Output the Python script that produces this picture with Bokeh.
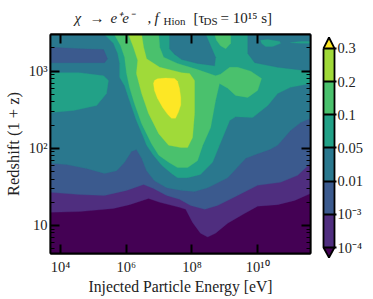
from bokeh.embed import file_html
from bokeh.resources import INLINE
from bokeh.plotting import figure
from bokeh.layouts import row, column
from bokeh.models import FixedTicker, LogAxis, LinearAxis, Range1d
from bokeh.core.properties import value

# Contour boundaries: log10(E/eV) and log10(1+z)
E_MIN, E_MAX = 3.695, 11.61
Z_MIN, Z_MAX = 0.637, 3.475

lev1_e = [3.695,4.58,5.61,6.10,6.68,7.02,7.62,7.81,8.02,8.26,8.48,8.72,9.09,9.60,10.0,10.61,11.13,11.61]
lev1_z = [1.17,1.18,1.22,1.27,1.35,1.30,1.235,1.21,1.04,0.90,0.85,0.90,1.03,1.155,1.25,1.27,1.325,1.415]
lev2_e = [3.695,4.58,5.34,6.01,6.53,6.83,7.23,7.62,7.96,8.39,8.78,9.39,10.0,10.70,11.22,11.61]
lev2_z = [1.43,1.40,1.39,1.455,1.53,1.48,1.39,1.34,1.26,1.21,1.26,1.39,1.52,1.56,1.65,1.805]
lev3_e = [3.695,4.18,4.79,5.34,5.71,5.95,6.16,6.31,6.47,6.62,6.86,7.23,7.69,8.08,8.48,9.09,9.64,10.0,10.37,10.61,11.0,11.31,11.61]
lev3_z = [1.805,1.79,1.74,1.675,1.71,1.82,1.96,1.985,1.87,1.71,1.58,1.49,1.455,1.44,1.49,1.62,1.87,1.93,1.985,2.04,2.23,2.335,2.39]
lev4_e = [5.34,5.61,5.74,5.80,5.80,5.95,6.10,6.31,6.53,6.62,6.83,7.08,7.38,7.56,7.87,8.26,8.63,8.84,9.15,9.33,9.85,10.31,10.61,11.0,11.61]
lev4_z = [3.475,3.36,3.23,3.10,2.92,2.81,2.62,2.36,2.14,2.04,1.91,1.78,1.675,1.62,1.62,1.66,1.82,2.04,2.36,2.41,2.40,2.555,2.71,2.79,2.84]
lev5_e = [5.64,5.83,5.95,6.01,6.10,6.25,6.47,6.77,6.99,7.29,7.56,7.87,8.17,8.33,8.57,8.72,8.84,9.09,9.33,9.70,10.0,10.12,9.79,9.39,9.15,8.87,8.72,8.17,7.56,7.14,7.02,6.99]
lev5_z = [3.475,3.33,3.18,2.97,2.79,2.58,2.32,2.06,1.91,1.82,1.75,1.75,1.84,2.04,2.27,2.62,2.84,2.78,2.685,2.66,2.75,2.905,3.00,3.05,3.05,2.96,2.94,3.02,3.10,3.18,3.31,3.475]
lev6_e = [6.07,6.22,6.35,6.31,6.47,6.68,6.99,7.29,7.66,7.87,8.02,8.08,8.08,7.93,7.69,7.02,6.62,6.53,6.47]
lev6_z = [3.475,3.31,3.14,2.97,2.71,2.45,2.19,2.04,2.01,2.01,2.14,2.45,2.88,2.97,2.98,3.05,3.16,3.31,3.475]
lev7_e = [6.83,6.86,6.95,7.20,7.47,7.56,7.62,7.66,7.66,7.59,7.50,7.38,7.26,7.11,6.95,6.86]
lev7_z = [2.84,2.88,2.90,2.91,2.905,2.87,2.78,2.66,2.56,2.47,2.39,2.39,2.44,2.53,2.65,2.75]

blue_island_e = [3.695,4.58,5.31,5.43,5.34,4.58,3.695]
blue_island_z = [3.31,3.29,3.28,3.16,3.11,3.11,3.11]
left_island_e = [3.695,4.58,5.31,5.46,5.40,5.10,4.40,3.695]
left_island_z = [2.98,2.98,2.94,2.88,2.71,2.555,2.49,2.465]
teal1_e = [7.32,7.32,7.47,7.69,8.17,8.69,8.72,8.42]
teal1_z = [3.475,3.29,3.22,3.15,3.10,3.07,3.18,3.475]
teal2_e = [9.70,9.70,9.91,10.61,11.61,11.61]
teal2_z = [3.475,3.23,3.11,3.05,3.00,3.475]
top_blob_e = [8.69,9.18,9.18,9.03,8.87,8.75]
top_blob_z = [3.475,3.475,3.36,3.29,3.33,3.40]
blob_a_e = [10.09,10.31,10.67,10.70,10.46,10.24,10.12]
blob_a_z = [3.40,3.41,3.385,3.36,3.32,3.32,3.36]
blob_b_e = [11.0,11.31,11.61,11.61,11.28]
blob_b_z = [3.37,3.385,3.385,3.36,3.36]

colors = ["#440154", "#4f2e7f", "#3b5a8e", "#2a788e", "#22a187", "#4ac16d", "#a0da39", "#fde725"]
cbar_labels = ["10⁻⁴", "10⁻³", "0.01", "0.05", "0.1", "0.2", "0.3"]
x_ticks = [4, 6, 8, 10]
x_tick_labels = ["10⁴", "10⁶", "10⁸", "10¹⁰"]
y_ticks = [1, 2, 3]
y_tick_labels = ["10", "10²", "10³"]
y_minor = [5,6,7,8,9,20,30,40,50,60,70,80,90,200,300,400,500,600,700,800,900,2000,3000]

FONT = "Liberation Serif"
TXT = "#222222"

p = figure(x_axis_type="log", y_axis_type="log",
           frame_width=260, frame_height=219,
           x_range=Range1d(10**E_MIN, 10**E_MAX), y_range=Range1d(10**Z_MIN, 10**Z_MAX),
           output_backend="svg", toolbar_location=None,
           min_border_left=39, min_border_right=7, min_border_top=8, min_border_bottom=40)
p.grid.visible = False
p.outline_line_color = "black"
p.outline_line_width = 1.8

def poly(e, z, level):
    p.patch([10**v for v in e], [10**v for v in z], fill_color=colors[level],
            line_color=colors[level], line_width=0.3)

def closed_up(e, z):
    return e + [E_MAX, E_MIN], z + [Z_MAX, Z_MAX]

poly([E_MIN, E_MAX, E_MAX, E_MIN], [Z_MIN, Z_MIN, Z_MAX, Z_MAX], 0)
poly(*closed_up(lev1_e, lev1_z), 1)
poly(*closed_up(lev2_e, lev2_z), 2)
poly(*closed_up(lev3_e, lev3_z), 3)
poly(lev4_e + [E_MAX], lev4_z + [Z_MAX], 4)
poly(teal1_e, teal1_z, 3)
poly(teal2_e, teal2_z, 3)
poly(blob_a_e, blob_a_z, 4)
poly(blob_b_e, blob_b_z, 4)
poly(blue_island_e, blue_island_z, 2)
poly(left_island_e, left_island_z, 4)
poly(lev5_e, lev5_z, 5)
poly(top_blob_e, top_blob_z, 5)
poly(lev6_e, lev6_z, 6)
poly(lev7_e, lev7_z, 7)

x_major = [10**v for v in x_ticks]
y_major = [10**v for v in y_ticks]

def style(ax, major, minor, in_major=9, in_minor=4):
    ax.ticker = FixedTicker(ticks=major, minor_ticks=minor)
    ax.major_tick_in = in_major
    ax.major_tick_out = 0
    ax.minor_tick_in = in_minor
    ax.minor_tick_out = 0
    ax.major_tick_line_width = 2
    ax.minor_tick_line_width = 1
    ax.major_tick_line_color = "black"
    ax.minor_tick_line_color = "black"
    ax.axis_line_color = "black"
    ax.axis_line_width = 1.8
    ax.major_label_text_font = FONT
    ax.major_label_text_font_size = "14.5px"
    ax.major_label_text_color = TXT

xa = p.xaxis[0]
style(xa, x_major, [])
xa.major_label_overrides = {10**t: s for t, s in zip(x_ticks, x_tick_labels)}
xa.major_label_standoff = 5
xa.axis_label = "Injected Particle Energy [eV]"
xa.axis_label_text_font = FONT
xa.axis_label_text_font_style = "normal"
xa.axis_label_text_font_size = "15.7px"
xa.axis_label_text_color = TXT
xa.axis_label_standoff = 0

ya = p.yaxis[0]
style(ya, y_major, y_minor)
ya.major_label_overrides = {10**t: s for t, s in zip(y_ticks, y_tick_labels)}
ya.major_label_standoff = 3
ya.major_label_orientation = "horizontal"
ya.axis_label = "Redshift (1 + z)"
ya.axis_label_text_font = FONT
ya.axis_label_text_font_style = "normal"
ya.axis_label_text_font_size = "16.5px"
ya.axis_label_text_color = TXT
ya.axis_label_standoff = 3

top = LogAxis()
style(top, x_major, [])
top.major_label_overrides = {10**t: " " for t in x_ticks}
top.major_label_text_font_size = "1px"
top.major_label_standoff = 0
p.add_layout(top, "above")
right = LogAxis()
style(right, y_major, y_minor)
right.major_label_overrides = {10**t: " " for t in y_ticks}
right.major_label_text_font_size = "1px"
right.major_label_standoff = 0
p.add_layout(right, "right")

# Title pieces: text, left edge, vertical middle, size, style
title_parts = [
    ("χ", 74, 9, 15, "italic"), ("→", 89, 9, 15, "normal"), ("e⁺e⁻", 110, 9, 15, "italic"), (",", 147, 9, 15, "normal"),
    ("f", 154, 9, 15, "italic"), ("Hion", 163, 6, 11, "normal"), ("[τ", 193, 9, 15, "normal"), ("DS", 203, 6, 11, "normal"),
    ("=  10¹⁵  s]", 220, 9, 15, "normal"),
]
tf = figure(width=360, height=26, x_range=Range1d(0, 360), y_range=Range1d(0, 26),
            output_backend="svg", toolbar_location=None, x_axis_location=None, y_axis_location=None,
            min_border=0, outline_line_color=None, title=None)
tf.grid.visible = False
for text, tx, ty, size, style_ in title_parts:
    tf.text([tx], [ty], text=[text], text_font=value(FONT), text_font_size=f"{size}px",
            text_font_style=style_, text_color=TXT, text_baseline="middle")

# Colour bar: index 0..6 stands for the seven labelled levels
cb = figure(frame_width=15, frame_height=226, x_range=Range1d(-2/11, 13/11), y_range=Range1d(-0.39, 6.42),
            output_backend="svg", toolbar_location=None,
            min_border_left=4, min_border_right=31, min_border_top=4, min_border_bottom=41,
            x_axis_location=None, y_axis_location=None)
cb.grid.visible = False
cb.outline_line_color = None
levels = list(range(len(cbar_labels)))
cb.quad(left=0, right=1, bottom=levels[:-1], top=levels[1:], fill_color=colors[1:7], line_color=None)
cb.patch([0, 0.5, 1], [6, 6.33, 6], fill_color=colors[7], line_color=None)
cb.patch([0, 0.5, 1], [0, -0.30, 0], fill_color=colors[0], line_color=None)
cb.line([0, 0.5, 1, 1, 0.5, 0, 0], [6, 6.33, 6, 0, -0.30, 0, 6], line_color="black", line_width=1.8)
ca = LinearAxis()
ca.ticker = FixedTicker(ticks=levels, minor_ticks=[])
ca.major_label_overrides = {i: s for i, s in zip(levels, cbar_labels)}
ca.axis_line_color = None
ca.major_tick_in = 13
ca.major_tick_out = 0
ca.major_tick_line_width = 2
ca.major_tick_line_color = "black"
ca.minor_tick_line_color = None
ca.major_label_standoff = 1
ca.major_label_text_font = FONT
ca.major_label_text_font_size = "14.5px"
ca.major_label_text_color = TXT
cb.add_layout(ca, "right")

open("out.html", "w").write(file_html(column(tf, row(p, cb, spacing=0), spacing=0), INLINE))
